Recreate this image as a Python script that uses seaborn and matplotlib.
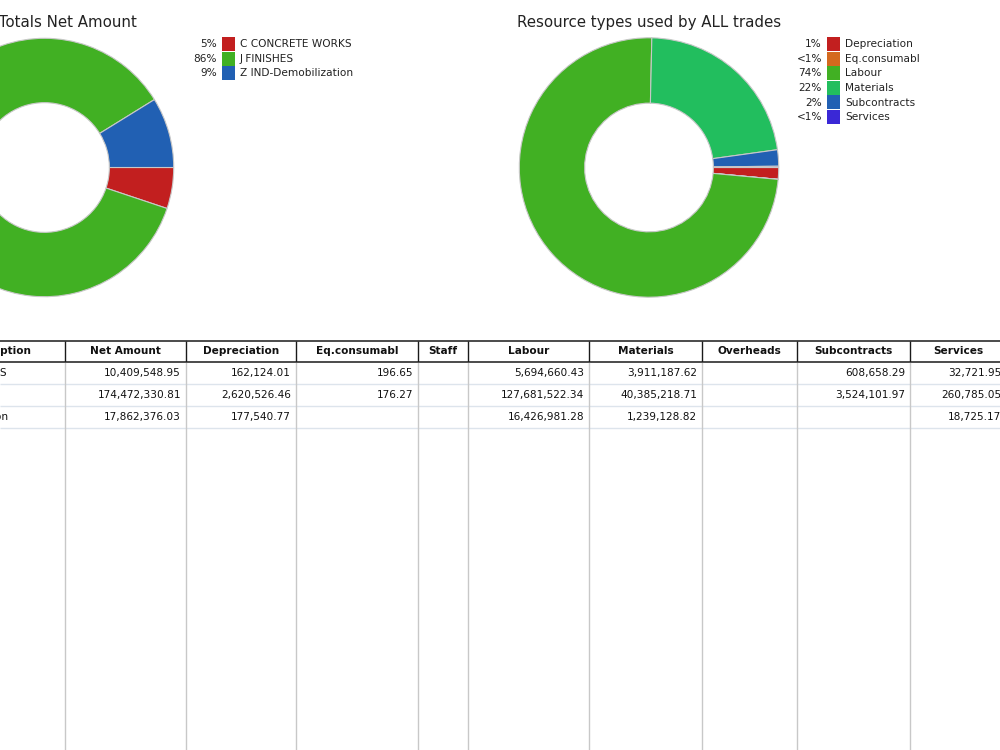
import numpy as np
import pandas as pd
import matplotlib
matplotlib.use("Agg")
import matplotlib.pyplot as plt
from matplotlib.patches import Rectangle
import seaborn as sns

# table data (per trade)
trades = ["C CONCRETE WORKS", "J FINISHES", "Z IND-Demobilization"]
net_amount = [10409548.95, 174472330.81, 17862376.03]
depreciation = [162124.01, 2620526.46, 177540.77]
eq_consumabl = [196.65, 176.27, np.nan]
staff = [np.nan, np.nan, np.nan]
labour = [5694660.43, 127681522.34, 16426981.28]
materials = [3911187.62, 40385218.71, 1239128.82]
overheads = [np.nan, np.nan, np.nan]
subcontracts = [608658.29, 3524101.97, np.nan]
services = [32721.95, 260785.05, 18725.17]

resource_types = ["Depreciation", "Eq.consumabl", "Labour", "Materials", "Subcontracts", "Services"]
trade_colors = ["#c21f1f", "#41b023", "#2160b3"]
resource_colors = ["#c21f1f", "#d4691e", "#41b023", "#22be5e", "#2160b3", "#3a28d6"]

df = pd.DataFrame({
    "Description": trades,
    "Net Amount": net_amount,
    "Depreciation": depreciation,
    "Eq.consumabl": eq_consumabl,
    "Staff": staff,
    "Labour": labour,
    "Materials": materials,
    "Overheads": overheads,
    "Subcontracts": subcontracts,
    "Services": services,
})

sns.set_style("white")
plt.rcParams['font.family'] = ['DejaVu Sans']

W, H = 1000, 750
fig = plt.figure(figsize=(10, 7.5), dpi=100)
ax = fig.add_axes([0, 0, 1, 1])
ax.set_xlim(0, W)
ax.set_ylim(H, 0)
ax.axis('off')


def pct_label(v, total):
    p = 100 * v / total
    return "<1%" if p < 1 else "%d%%" % round(p)


def donut(cx, cy, r_out, r_in, values, colors):
    pax = fig.add_axes([(cx - r_out) / W, 1 - (cy + r_out) / H, 2 * r_out / W, 2 * r_out / H])
    pax.pie(values, colors=colors, startangle=0, counterclock=False, radius=1,
            wedgeprops=dict(width=1 - r_in / r_out, edgecolor='#c8c8c8', linewidth=0.8))
    pax.set_xlim(-1.01, 1.01)
    pax.set_ylim(-1.01, 1.01)
    pax.axis('off')


def legend(x_sq, y_top, labels, values, colors):
    total = sum(values)
    rh = 14.6
    for i, (lab, v, c) in enumerate(zip(labels, values, colors)):
        y = y_top + i * rh
        ax.add_patch(Rectangle((x_sq, y), 13, rh - 0.6, color=c, lw=0))
        ax.text(x_sq - 5, y + rh / 2, pct_label(v, total), ha='right', va='center', fontsize=7.6, color='#222222')
        ax.text(x_sq + 18, y + rh / 2, lab, ha='left', va='center', fontsize=7.6, color='#222222')


# left donut: net amount by trade
donut(44.5, 167.5, 130.5, 65.5, df["Net Amount"].values, trade_colors)
ax.text(-86, 27, "ALL trades Totals Net Amount", ha='left', va='baseline', fontsize=10.8, color='#222222')
legend(222, 37, trades, list(df["Net Amount"]), trade_colors)

# right donut: resource types over all trades
res_totals = [df[c].sum() for c in resource_types]
donut(649, 167.5, 131, 65, res_totals, resource_colors)
ax.text(517, 27, "Resource types used by ALL trades", ha='left', va='baseline', fontsize=10.8, color='#222222')
legend(827, 37, resource_types, res_totals, resource_colors)

# table
bounds = [-140, 65, 186, 296, 418, 468, 589, 702, 797, 910, 1006]
cols = list(df.columns)
y_top, y_head, rh = 341, 362, 22
ax.hlines([y_top, y_head], 0, W, color='#1a1a1a', lw=1.1)
ax.hlines([y_head + rh * (i + 1) for i in range(len(df))], 0, W, color='#dde4ec', lw=1.0)
ax.vlines(bounds[1:-1], y_head, H, color='#c8c8c8', lw=1.0)
ax.vlines(bounds[1:-1], y_top, y_head, color='#1a1a1a', lw=1.0)

for j, c in enumerate(cols):
    if j == 0:
        ax.text(31, (y_top + y_head) / 2, c, ha='right', va='center', fontsize=7.6, fontweight='bold', color='#111111')
    else:
        ax.text((bounds[j] + bounds[j + 1]) / 2, (y_top + y_head) / 2, c, ha='center', va='center',
                fontsize=7.6, fontweight='bold', color='#111111')

for i, row in df.iterrows():
    yc = y_head + rh * i + rh / 2
    ax.text(-105, yc, row["Description"], ha='left', va='center', fontsize=7.6, color='#111111')
    for j, c in enumerate(cols[1:], start=1):
        v = row[c]
        if pd.notna(v):
            ax.text(bounds[j + 1] - 5, yc, f"{v:,.2f}", ha='right', va='center', fontsize=7.6, color='#111111')

fig.savefig("out.png", dpi=100, facecolor='white')
